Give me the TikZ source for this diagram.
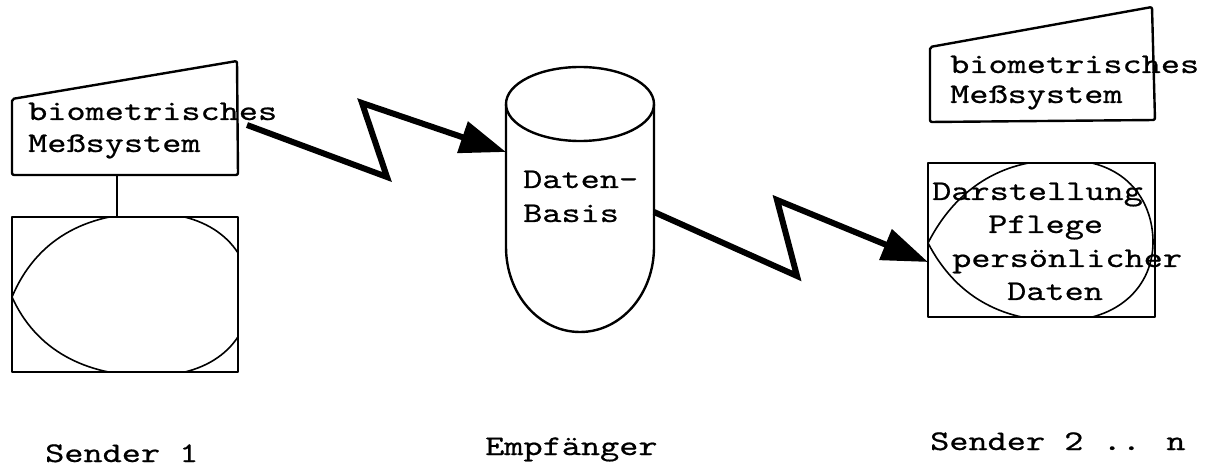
\documentclass[tikz,border=0pt]{standalone}
\usepackage{fontspec}
\usetikzlibrary{arrows.meta}
\newfontfamily\typer[Extension=.otf, FakeStretch=1.28, FakeBold=0.6]{lmmono10-regular}
\begin{document}
\begin{tikzpicture}[x=1pt,y=-1pt,
  tw/.style={font=\typer\fontsize{28.5}{32}\selectfont, inner sep=0pt, anchor=base west},
  frame/.style={line width=2.4pt, line join=round},
  thin/.style={line width=1.6pt},
  bolt/.style={line width=6pt, line join=miter, -{Triangle[length=46pt,width=32pt]}}]
\useasboundingbox (0,0) rectangle (1210,470);

% ---- Sender 1: measuring unit and display
\draw[frame, rounded corners=2pt] (12,99) -- (237,61) -- (238,175) -- (12,175) -- cycle;
\coordinate (m1bot) at (117,175);
\coordinate (d1top) at (117,217);
\draw[thin] (m1bot) -- (d1top);
\draw[frame] (12,217) rectangle (238,372);
\begin{scope}
  \clip (12,217) rectangle (238,372);
  \draw[thin] (12,297) .. controls (36,240) and (85,213) .. (150,213)
    .. controls (215,213) and (250,250) .. (250,295)
    .. controls (250,340) and (215,376) .. (150,376)
    .. controls (85,376) and (36,350) .. (12,297);
\end{scope}
\node[tw] (m1a) at (28,120) {biometrisches};
\node[tw] (m1b) at (28,152) {Meßsystem};

% ---- Receiver: data base cylinder
\draw[frame] (580,104) ellipse [x radius=74, y radius=37];
\draw[frame] (506,104) -- (506,247)
  .. controls (506,294) and (539,332) .. (580,332)
  .. controls (621,332) and (654,294) .. (654,247) -- (654,104);
\node[tw] (dba) at (523,188) {Daten-};
\node[tw] (dbb) at (523,222) {Basis};

% ---- Sender 2 .. n
\draw[frame, rounded corners=2pt] (930,47) -- (1152,7) -- (1155,120) -- (930,122) -- cycle;
\node[tw] (m2a) at (950,73) {biometrisches};
\node[tw] (m2b) at (950,103) {Meßsystem};
\draw[frame] (928,163) rectangle (1155,317);
\begin{scope}
  \clip (928,163) rectangle (1155,317);
  \draw[thin] (928,243) .. controls (955,190) and (1000,160) .. (1060,160)
    .. controls (1125,158) and (1153,200) .. (1153,242)
    .. controls (1153,285) and (1120,321) .. (1060,321)
    .. controls (1000,321) and (955,295) .. (928,243);
\end{scope}
\node[tw] (p1) at (932,200) {Darstellung};
\node[tw] (p2) at (988,233) {Pflege};
\node[tw] (p3) at (952,267) {persönlicher};
\node[tw] (p4) at (1007,300) {Daten};

% ---- transmission links
\coordinate (s1out) at (247,125);
\coordinate (dbin) at (506,152);
\coordinate (dbout) at (654,212);
\coordinate (s2in) at (928,262);
\draw[bolt] (s1out) -- (387,177) -- (362,103) -- (dbin);
\draw[bolt] (dbout) -- (797,276) -- (777,200) -- (s2in);

% ---- captions
\node[tw] (c1) at (45,462) {Sender 1};
\node[tw] (c2) at (485,455) {Empfänger};
\node[tw] (c3) at (930,450) {Sender 2 .. n};
\end{tikzpicture}
\end{document}
